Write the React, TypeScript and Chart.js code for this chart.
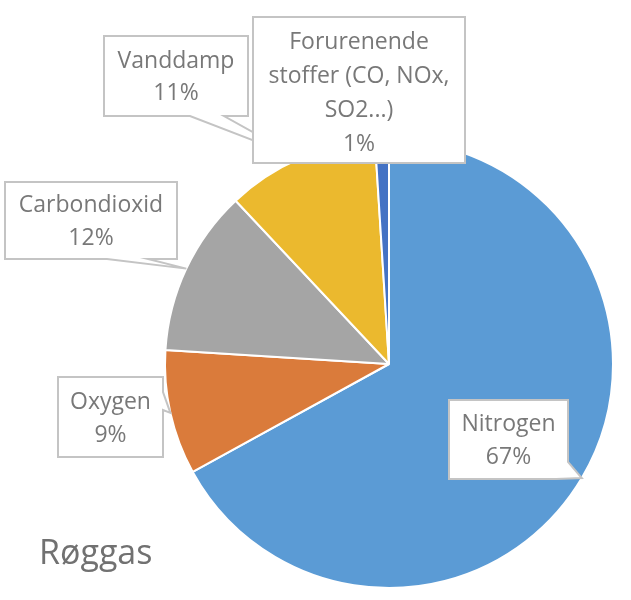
import React, { useEffect, useRef } from "react";
import { Chart, registerables } from "chart.js";

Chart.register(...registerables);

const categories = ["Nitrogen", "Oxygen", "Carbondioxid", "Vanddamp", "Forurenende stoffer (CO, NOx, SO2...)"];
const labelLines = [["Nitrogen"], ["Oxygen"], ["Carbondioxid"], ["Vanddamp"], ["Forurenende", "stoffer (CO, NOx,", "SO2...)"]];
const values = [67, 9, 12, 11, 1];
const colors = ["#5B9BD5", "#DA7B3B", "#A5A5A5", "#EBB92E", "#4472C4"];
const chartTitle = "Røggas";

// callout box layout: [x, y, w, h], wedge spec
type Wedge = { side: "right" | "bottom" | "corner-br" | "none"; a: number; b: number };
const boxLayout: { rect: [number, number, number, number]; wedge: Wedge; lh: number; dy: number }[] = [
  { rect: [449, 400, 119, 79], wedge: { side: "corner-br", a: 462, b: 556 }, lh: 33, dy: 0 },
  { rect: [58, 377, 105, 80], wedge: { side: "right", a: 392, b: 410 }, lh: 33, dy: 0 },
  { rect: [5, 182, 172, 77], wedge: { side: "bottom", a: 148, b: 107 }, lh: 32.5, dy: 0 },
  { rect: [104, 36, 144, 80], wedge: { side: "bottom", a: 224, b: 190 }, lh: 32.5, dy: 0 },
  { rect: [253, 17, 212, 146], wedge: { side: "none", a: 0, b: 0 }, lh: 34, dy: 1.5 },
];

const FONT = '"Open Sans", "Noto Sans", sans-serif';

const calloutPlugin = {
  id: "callouts",
  afterDraw(chart: any) {
    const ctx = chart.ctx as CanvasRenderingContext2D;
    const meta = chart.getDatasetMeta(0);
    [0, 1, 2, 3, 4].forEach((i) => {
      const arc = meta.data[i] as any;
      const { x: cx, y: cy, startAngle, endAngle, outerRadius } = arc.getProps(
        ["x", "y", "startAngle", "endAngle", "outerRadius"],
        true
      );
      const mid = (startAngle + endAngle) / 2;
      const tx = cx + Math.cos(mid) * outerRadius;
      const ty = cy + Math.sin(mid) * outerRadius;
      const { rect, wedge, lh, dy } = boxLayout[i];
      const [x, y, w, h] = rect;
      const r = x + w;
      const btm = y + h;
      const pts: [number, number][] = [];
      pts.push([x, y], [r, y]);
      if (wedge.side === "right") {
        pts.push([r, wedge.a], [tx, ty], [r, wedge.b]);
      }
      if (wedge.side === "corner-br") {
        pts.push([r, wedge.a], [tx, ty], [wedge.b, btm]);
      } else {
        pts.push([r, btm]);
      }
      if (wedge.side === "bottom") {
        pts.push([wedge.a, btm], [tx, ty], [wedge.b, btm]);
      }
      pts.push([x, btm]);
      ctx.save();
      ctx.beginPath();
      pts.forEach(([px, py], k) => (k === 0 ? ctx.moveTo(px, py) : ctx.lineTo(px, py)));
      ctx.closePath();
      ctx.fillStyle = "#FFFFFF";
      ctx.fill();
      ctx.lineWidth = 2;
      ctx.strokeStyle = "#C4C4C4";
      ctx.lineJoin = "miter";
      ctx.stroke();

      const lines = [...labelLines[i], values[i] + "%"];
      const fs = 23;
      ctx.font = `500 ${fs}px ${FONT}`;
      ctx.fillStyle = "#787878";
      ctx.textAlign = "center";
      ctx.textBaseline = "alphabetic";
      const ccx = x + w / 2;
      const ccy = y + h / 2 + dy;
      lines.forEach((ln, k) => {
        const by = ccy - ((lines.length - 1) * lh) / 2 + k * lh + (fs * 0.714) / 2;
        ctx.fillText(ln, ccx, by);
      });
      ctx.restore();
    });

    ctx.save();
    ctx.font = `500 34px ${FONT}`;
    ctx.fillStyle = "#717171";
    ctx.textAlign = "left";
    ctx.textBaseline = "alphabetic";
    ctx.fillText(chartTitle, 39, 564);
    ctx.restore();
  },
};

export default function App() {
  const ref = useRef<HTMLCanvasElement>(null);
  useEffect(() => {
    if (!ref.current) return;
    const chart = new Chart(ref.current, {
      type: "pie",
      data: {
        labels: categories,
        datasets: [
          {
            data: values,
            backgroundColor: colors,
            borderColor: "#FFFFFF",
            borderWidth: 2,
          },
        ],
      },
      options: {
        responsive: false,
        animation: false,
        events: [],
        layout: { padding: { left: 164, right: 17, top: 139, bottom: 11 } },
        plugins: {
          legend: { display: false },
          tooltip: { enabled: false },
          title: { display: false },
        },
      },
      plugins: [calloutPlugin],
    });
    return () => chart.destroy();
  }, []);
  return (
    <div style={{ position: "absolute", left: 0, top: 0, width: 631, height: 600, background: "#fff" }}>
      <canvas ref={ref} width={631} height={600} />
    </div>
  );
}
